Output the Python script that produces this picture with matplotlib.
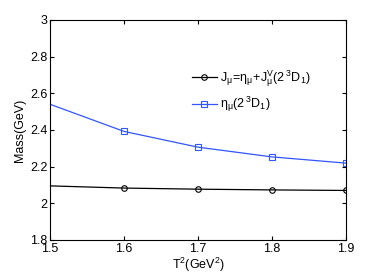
import matplotlib.pyplot as plt

# T^2 values (GeV^2)
t2 = [1.5, 1.6, 1.7, 1.8, 1.9]

# Mass curves (GeV)
mass_j = [2.095, 2.083, 2.077, 2.073, 2.070]
mass_eta = [2.540, 2.392, 2.306, 2.253, 2.219]

plt.rcParams['font.family'] = ['Liberation Sans', 'DejaVu Sans']
plt.rcParams['mathtext.fontset'] = 'custom'
plt.rcParams['mathtext.rm'] = 'Liberation Sans'
plt.rcParams['mathtext.it'] = 'Liberation Sans'

fig = plt.figure(figsize=(3.82, 2.73), dpi=100)
ax = fig.add_axes([0.131, 0.121, 0.775, 0.806])

ax.plot(t2, mass_j, color='black', lw=0.9, marker='o', ms=4, mfc='none',
        mew=0.8, markevery=[1, 2, 3, 4],
        label=r'$\mathrm{J_\mu\!=\!\eta_\mu\!+\!J^V_\mu(2\,^3D_1)}$')
ax.plot(t2, mass_eta, color='#3355ff', lw=0.9, marker='s', ms=4, mfc='none',
        mew=0.8, markevery=[1, 2, 3, 4],
        label=r'$\mathrm{\eta_\mu(2\,^3D_1)}$')

ax.set_xlim(1.5, 1.9)
ax.set_ylim(1.8, 3.0)
ax.set_xticks([1.5, 1.6, 1.7, 1.8, 1.9])
ax.set_xticklabels(['1.5', '1.6', '1.7', '1.8', '1.9'])
ax.set_yticks([1.8, 2.0, 2.2, 2.4, 2.6, 2.8, 3.0])
ax.set_yticklabels(['1.8', '2', '2.2', '2.4', '2.6', '2.8', '3'])
ax.tick_params(direction='in', length=3, labelsize=9, top=True, right=True, pad=2)
ax.set_xlabel(r'T$^2$(GeV$^2$)', fontsize=9, labelpad=1)
ax.set_ylabel('Mass(GeV)', fontsize=9, labelpad=3)

ax.legend(loc='center left', bbox_to_anchor=(0.44, 0.675), frameon=False,
          fontsize=9, handlelength=2.0, handletextpad=0.3, labelspacing=0.45)

fig.savefig('out.png', dpi=100)
